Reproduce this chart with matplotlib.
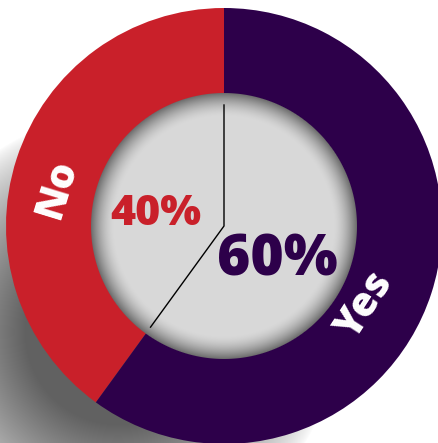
import numpy as np
import matplotlib
matplotlib.use("Agg")
import matplotlib.pyplot as plt

# survey answers
labels = ["No", "Yes"]
shares = [40, 60]
colors = ["#c9202a", "#2d004a"]
pct_text = ["40%", "60%"]

W, H = 439, 443
cx, cy = 224, 217          # donut centre (y measured from bottom)
r_out, r_in = 218, 133

fig = plt.figure(figsize=(W / 100, H / 100), dpi=100)
ax = fig.add_axes([0, 0, 1, 1])

# soft drop shadow thrown to the lower left
yy, xx = np.mgrid[0:H, 0:W] + 0.5
sx, sy = cx - 106, (H - cy) + 106          # shadow centre in pixel rows
d_in = r_out - np.hypot(xx - sx, yy - sy)
dark = 0.62 * np.clip(d_in / 125, 0, 1) ** 0.75
shadow = np.zeros((H, W, 4))
shadow[..., 3] = dark
ax.imshow(shadow, extent=(0, W, 0, H), origin="upper", zorder=0)

# ring
ax.pie(shares, colors=colors, startangle=90, counterclock=True,
       radius=r_out, center=(cx, cy),
       wedgeprops=dict(width=r_out - r_in + 5, linewidth=0))

# grey centre disc with an inner shadow
ys = H - yy
rr = np.hypot(xx - cx, ys - cy)
edge = r_in - rr
shade = 0.85 - 0.43 * (1 - np.clip(edge / 24, 0, 1)) ** 1.7
disc = np.zeros((H, W, 4))
disc[..., 0] = disc[..., 1] = disc[..., 2] = shade
disc[..., 3] = np.clip(edge + 0.5, 0, 1)
ax.imshow(disc, extent=(0, W, 0, H), origin="upper", zorder=3)

# divider lines inside the disc
a0 = np.deg2rad(90)
a1 = np.deg2rad(90 + 360 * shares[0] / sum(shares))
ax.plot([cx + 121 * np.cos(a0), cx, cx + 125 * np.cos(a1)],
        [cy + 121 * np.sin(a0), cy, cy + 125 * np.sin(a1)],
        color="black", lw=1.0, zorder=4)

font = "Open Sans"
wt = 800
ax.text(58, 254, labels[0], color="white", fontsize=29, fontweight=wt,
        family=font, rotation=73, ha="center", va="center", zorder=5)
ax.text(366, 138, labels[1], color="white", fontsize=29, fontweight=wt,
        family=font, rotation=57, ha="center", va="center", zorder=5)
ax.text(156, 229, pct_text[0], color=colors[0], fontsize=31, fontweight=wt,
        family=font, ha="center", va="center", zorder=5)
ax.text(277, 182, pct_text[1], color=colors[1], fontsize=41, fontweight=wt,
        family=font, ha="center", va="center", zorder=5)

ax.set_xlim(0, W)
ax.set_ylim(0, H)
ax.set_aspect("auto")
ax.axis("off")
fig.savefig("out.png", dpi=100, facecolor="white")
